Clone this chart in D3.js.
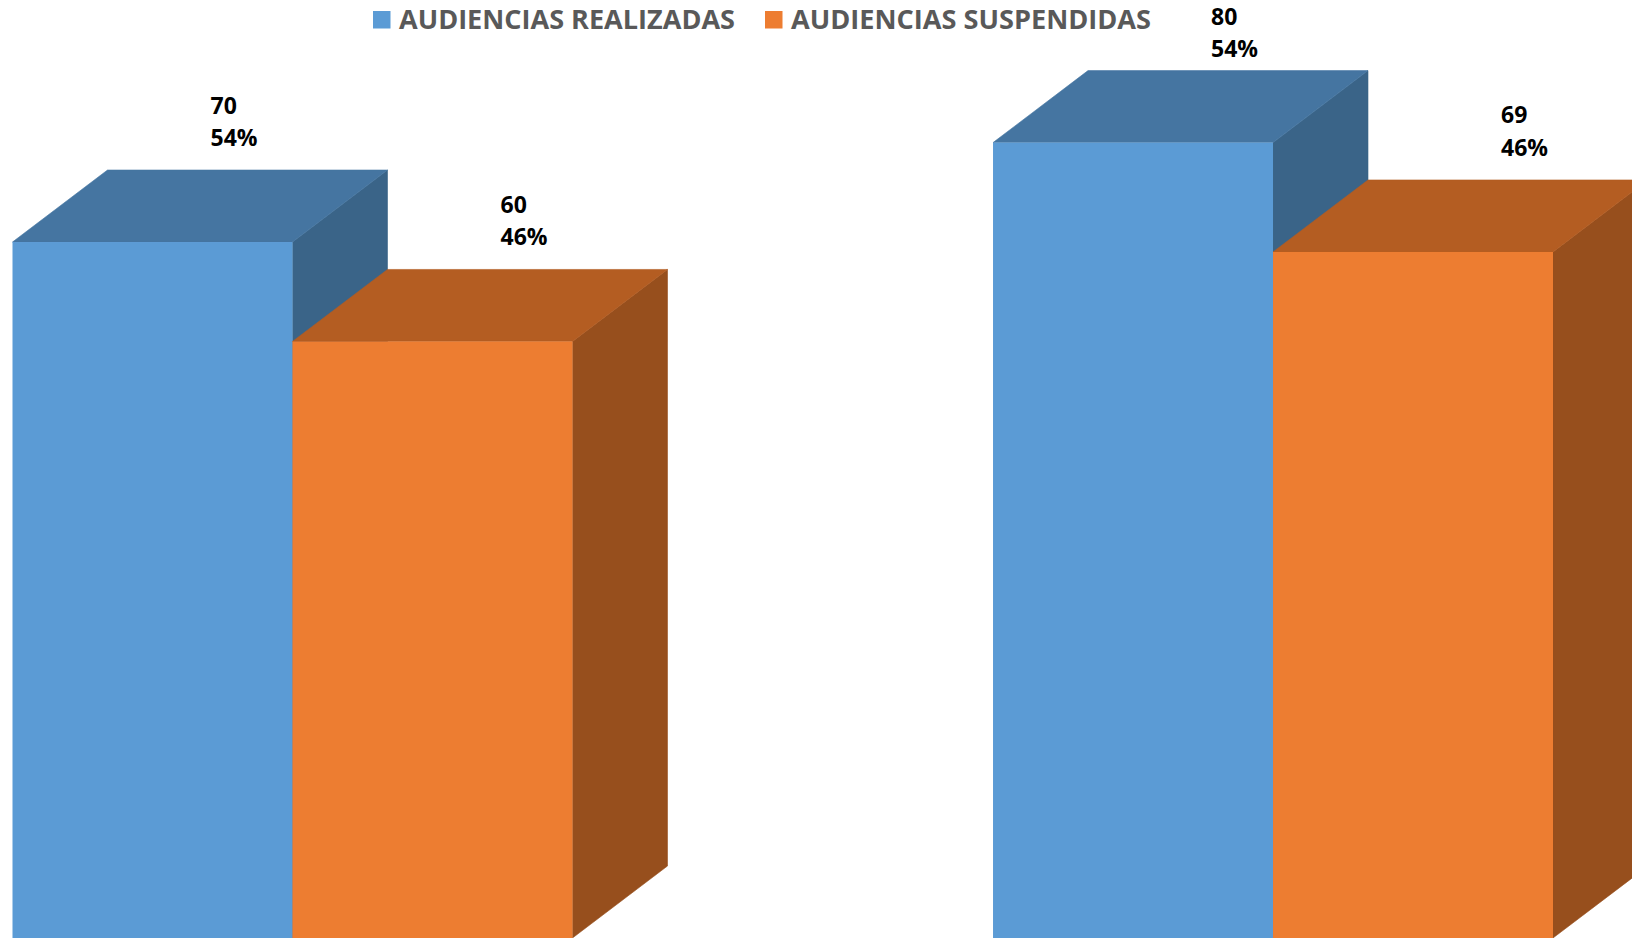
<!DOCTYPE html>
<html>
<head>
<meta charset="utf-8">
<script src="https://cdn.jsdelivr.net/npm/d3@7"></script>
<style>
  html, body { margin: 0; padding: 0; background: #fff; overflow: hidden; }
  #chart { width: 1632px; height: 938px; }
  text { font-family: "Open Sans", Lato, sans-serif; }
</style>
</head>
<body>
<div id="chart"></div>
<script>
// --- data ---
const categories = ["Periodo 1", "Periodo 2"];
const seriesNames = ["AUDIENCIAS REALIZADAS", "AUDIENCIAS SUSPENDIDAS"];
const realizadas = [70, 80];
const suspendidas = [60, 69];

const frontColors = ["#5B9BD5", "#ED7D31"];
const topColors = ["#4575A1", "#B45D22"];
const sideColors = ["#3A6488", "#974F1D"];

const width = 1632, height = 938;
const depth = { dx: 95, dy: -72 };

const svg = d3.select("#chart").append("svg")
    .attr("width", width)
    .attr("height", height);

// --- scales ---
const y = d3.scaleLinear().domain([0, 80]).range([height, 142.6]);

const x0 = d3.scaleBand()
    .domain(categories)
    .range([12.5, 1553])
    .paddingInner(0.4289)
    .paddingOuter(0);

const x1 = d3.scaleBand()
    .domain(seriesNames)
    .range([0, x0.bandwidth()])
    .padding(0);

const values = [realizadas, suspendidas];
const bars = [];
categories.forEach((c, ci) => {
    const total = d3.sum(values, v => v[ci]);
    seriesNames.forEach((s, si) => {
        const v = values[si][ci];
        bars.push({ cat: c, series: s, si, value: v, pct: Math.round(v / total * 100), idx: bars.length });
    });
});

// --- 3D bars (side, top, front for each, drawn left to right) ---
const g = svg.append("g").attr("class", "bars");

bars.forEach(d => {
    const xl = x0(d.cat) + x1(d.series);
    const xr = xl + x1.bandwidth();
    const yt = y(d.value);
    const yb = y(0);
    const bar = g.append("g").attr("class", "bar");

    bar.append("polygon")
        .attr("points", [[xr, yt], [xr + depth.dx, yt + depth.dy], [xr + depth.dx, yb + depth.dy], [xr, yb]].join(" "))
        .attr("fill", sideColors[d.si])
        .attr("stroke", sideColors[d.si])
        .attr("stroke-width", 0.6);

    bar.append("polygon")
        .attr("points", [[xl, yt], [xl + depth.dx, yt + depth.dy], [xr + depth.dx, yt + depth.dy], [xr, yt]].join(" "))
        .attr("fill", topColors[d.si])
        .attr("stroke", topColors[d.si])
        .attr("stroke-width", 0.6);

    bar.append("rect")
        .attr("x", xl)
        .attr("y", yt)
        .attr("width", xr - xl)
        .attr("height", yb - yt)
        .attr("fill", frontColors[d.si]);
});

// --- data labels (value + percent), left aligned ---
// perspective pushes each label a bit further right; labels are kept inside the top edge
const lineGap = 32.5;
const labels = svg.append("g").attr("class", "labels");
bars.forEach(d => {
    const lx = x0(d.cat) + x1(d.series) + 198 + d.idx * 10;
    const first = Math.max(y(d.value) - 96 - lineGap, 24.5);
    const t = labels.append("text")
        .attr("x", lx)
        .attr("y", first)
        .attr("font-size", 23)
        .attr("font-weight", 700)
        .attr("fill", "#000");
    t.append("tspan").attr("x", lx).text(d.value);
    t.append("tspan").attr("x", lx).attr("dy", lineGap).text(d.pct + "%");
});

// --- legend ---
const legendItems = [
    { name: seriesNames[0], color: frontColors[0], x: 373, w: 336 },
    { name: seriesNames[1], color: frontColors[1], x: 765, w: 360 }
];
const legend = svg.append("g").attr("class", "legend");
legendItems.forEach(it => {
    legend.append("rect")
        .attr("x", it.x)
        .attr("y", 11)
        .attr("width", 17.5)
        .attr("height", 17.5)
        .attr("fill", it.color);
    legend.append("text")
        .attr("x", it.x + 26)
        .attr("y", 28.5)
        .attr("font-size", 27)
        .attr("font-weight", 700)
        .attr("fill", "#595959")
        .attr("textLength", it.w)
        .attr("lengthAdjust", "spacingAndGlyphs")
        .text(it.name);
});
</script>
</body>
</html>
